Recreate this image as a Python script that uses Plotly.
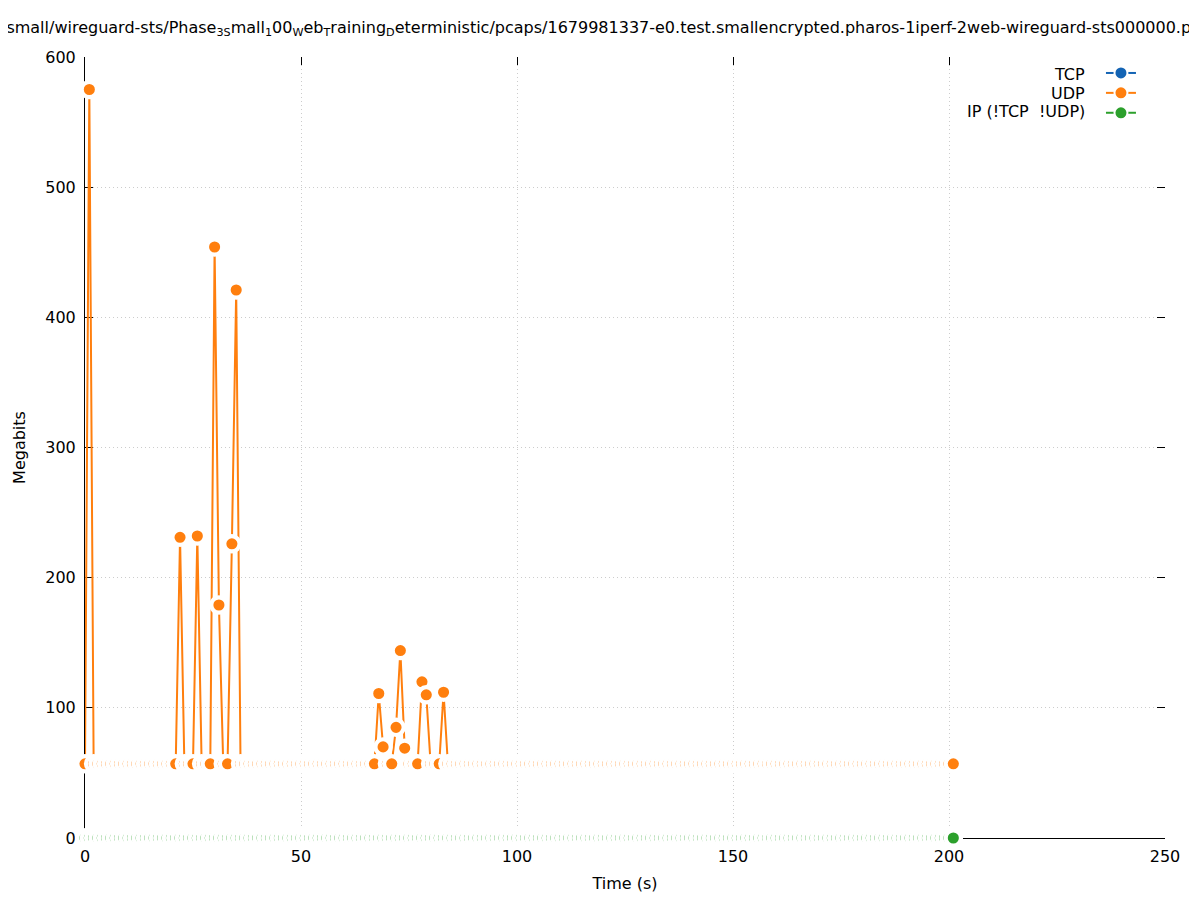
import plotly.graph_objects as go

# one-second bins, Megabits per bin
time_s = list(range(0, 202))

udp_mbits = [
    57, 575, 57, 57, 57, 57, 57, 57, 57, 57, 57, 57, 57, 57, 57, 57, 57, 57, 57, 57,
    57, 57, 231, 57, 57, 57, 232, 57, 57, 57, 454, 179, 57, 57, 226, 421, 57, 57, 57, 57,
    57, 57, 57, 57, 57, 57, 57, 57, 57, 57, 57, 57, 57, 57, 57, 57, 57, 57, 57, 57,
    57, 57, 57, 57, 57, 57, 57, 57, 111, 70, 57, 57, 85, 144, 69, 57, 57, 57, 120, 110,
    57, 57, 57, 112, 57, 57, 57, 57, 57, 57, 57, 57, 57, 57, 57, 57, 57, 57, 57, 57,
    57, 57, 57, 57, 57, 57, 57, 57, 57, 57, 57, 57, 57, 57, 57, 57, 57, 57, 57, 57,
    57, 57, 57, 57, 57, 57, 57, 57, 57, 57, 57, 57, 57, 57, 57, 57, 57, 57, 57, 57,
    57, 57, 57, 57, 57, 57, 57, 57, 57, 57, 57, 57, 57, 57, 57, 57, 57, 57, 57, 57,
    57, 57, 57, 57, 57, 57, 57, 57, 57, 57, 57, 57, 57, 57, 57, 57, 57, 57, 57, 57,
    57, 57, 57, 57, 57, 57, 57, 57, 57, 57, 57, 57, 57, 57, 57, 57, 57, 57, 57, 57,
    57, 57,
]
tcp_mbits = [0] * len(time_s)
ip_mbits = [0] * len(time_s)

series = [
    ("TCP", tcp_mbits, "#1464b4"),
    ("UDP", udp_mbits, "#ff7f0e"),
    ("IP (!TCP  !UDP)", ip_mbits, "#2ca02c"),
]

title_text = (
    "/small/wireguard-sts/Phase<sub>3S</sub>mall<sub>1</sub>00<sub>W</sub>eb"
    "<sub>T</sub>raining<sub>D</sub>eterministic/pcaps/1679981337-e0.test."
    "smallencrypted.pharos-1iperf-2web-wireguard-sts000000.pcap"
)

FONT = "DejaVu Sans"
FS = 16

fig = go.Figure()

for name, vals, color in series:
    fig.add_trace(
        go.Scatter(
            x=time_s,
            y=vals,
            mode="lines+markers",
            name=name,
            showlegend=False,
            line=dict(color=color, width=2),
            marker=dict(size=15.3, color=color, line=dict(color="white", width=4.2)),
            cliponaxis=False,
        )
    )

# legend-only entries with a thinner halo so the line sample shows
for name, vals, color in series:
    fig.add_trace(
        go.Scatter(
            x=[None],
            y=[None],
            mode="lines+markers",
            name=" ",
            line=dict(color=color, width=2),
            marker=dict(size=13, color=color, line=dict(color="white", width=2)),
        )
    )

# empty trace so the mirrored tick axes get drawn
fig.add_trace(
    go.Scatter(x=[None], y=[None], xaxis="x2", yaxis="y2", showlegend=False, hoverinfo="skip")
)

# legend labels sit left of the samples, gnuplot style
for i, (name, vals, color) in enumerate(series):
    fig.add_annotation(
        text=name,
        xref="paper",
        yref="paper",
        x=0.9278,
        y=0.9782 - i * 0.0243,
        xanchor="right",
        yanchor="middle",
        showarrow=False,
        font=dict(family=FONT, size=FS, color="black"),
    )

fig.add_annotation(
    text=title_text,
    xref="paper",
    yref="paper",
    x=-0.0796,
    y=1.037,
    xanchor="left",
    yanchor="middle",
    showarrow=False,
    font=dict(family=FONT, size=FS, color="black"),
)

axis_common = dict(
    showline=True,
    linecolor="black",
    linewidth=1,
    ticks="inside",
    ticklen=8,
    tickcolor="black",
    showgrid=True,
    gridcolor="#cccccc",
    griddash="1px,3px",
    gridwidth=1,
    zeroline=False,
    layer="below traces",
    tickfont=dict(family=FONT, size=FS, color="black"),
)

mirror_common = dict(
    ticks="inside",
    ticklen=8,
    tickcolor="black",
    showticklabels=False,
    showgrid=False,
    showline=False,
    zeroline=False,
)

fig.update_layout(
    width=1197,
    height=900,
    plot_bgcolor="white",
    paper_bgcolor="white",
    margin=dict(l=77, r=40, t=49, b=70),
    font=dict(family=FONT, size=FS, color="black"),
    xaxis=dict(
        range=[0, 250],
        dtick=50,
        ticklabelstandoff=4,
        title=dict(text="Time (s)", standoff=12, font=dict(size=FS)),
        **axis_common,
    ),
    yaxis=dict(
        range=[0, 600],
        dtick=100,
        ticklabelstandoff=5,
        title=dict(text="Megabits", standoff=15, font=dict(size=FS)),
        **axis_common,
    ),
    xaxis2=dict(overlaying="x", side="top", range=[0, 250], dtick=50, **mirror_common),
    yaxis2=dict(overlaying="y", side="right", range=[0, 600], dtick=100, **mirror_common),
    legend=dict(
        x=0.987,
        y=0.9987,
        xanchor="right",
        yanchor="top",
        bgcolor="rgba(0,0,0,0)",
        font=dict(family=FONT, size=13),
        tracegroupgap=0,
        itemwidth=30,
    ),
)

fig.write_html("out.html")
